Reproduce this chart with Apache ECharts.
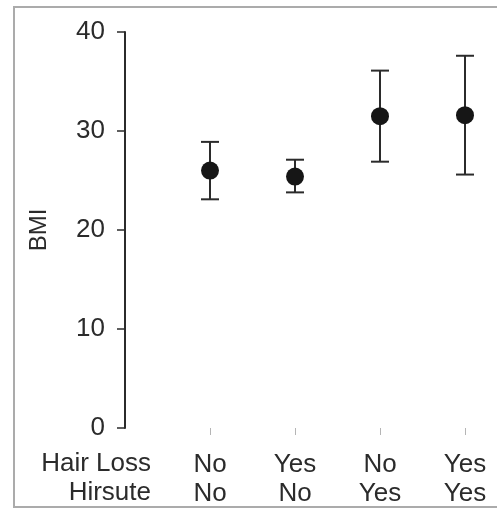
<!DOCTYPE html>
<html>
<head>
<meta charset="utf-8">
<script src="https://cdn.jsdelivr.net/npm/echarts@6/dist/echarts.min.js"></script>
<style>
  html, body { margin: 0; padding: 0; background: #fff; }
  #chart { width: 497px; height: 517px; }
</style>
</head>
<body>
<div id="chart"></div>
<script>
// group labels (two rows under each point)
const hairLoss = ['No', 'Yes', 'No', 'Yes'];
const hirsute = ['No', 'No', 'Yes', 'Yes'];
// BMI mean with lower / upper error bar ends
const bmiMean = [26.0, 25.4, 31.5, 31.6];
const bmiLow = [23.1, 23.8, 26.9, 25.6];
const bmiHigh = [28.9, 27.1, 36.1, 37.6];
const yTicks = [0, 10, 20, 30, 40];

const FONT = "'Liberation Sans', Arial, sans-serif";
const INK = '#2b2b2b';
const FS = 26;

const chart = echarts.init(document.getElementById('chart'));

const groupPos = hairLoss.map((_, i) => i + 1);

const option = {
  animation: false,
  backgroundColor: '#fff',
  grid: { left: 125, right: 2.25, top: 32, bottom: 89 },
  xAxis: {
    type: 'value',
    min: 0,
    max: 4.35,
    axisLine: { show: false },
    splitLine: { show: false },
    axisTick: {
      show: true,
      customValues: groupPos,
      length: 7,
      lineStyle: { color: '#b5b5b5', width: 1 },
    },
    axisLabel: {
      customValues: groupPos,
      margin: 22,
      fontFamily: FONT,
      fontSize: FS,
      color: INK,
      lineHeight: 29,
      formatter: (v) => {
        const i = Math.round(v) - 1;
        return `${hairLoss[i]}\n${hirsute[i]}`;
      },
    },
  },
  yAxis: {
    type: 'value',
    min: yTicks[0],
    max: yTicks[yTicks.length - 1],
    interval: 10,
    name: 'BMI',
    nameLocation: 'middle',
    nameGap: 74,
    nameTextStyle: { fontFamily: FONT, fontSize: 24, color: INK },
    axisLine: { show: true, lineStyle: { color: INK, width: 2 } },
    axisTick: { show: true, length: 8, lineStyle: { color: INK, width: 1.5 } },
    splitLine: { show: false },
    axisLabel: { margin: 20, fontFamily: FONT, fontSize: FS, color: INK },
  },
  graphic: [
    {
      type: 'rect',
      shape: { x: 14, y: 7, width: 520, height: 500 },
      style: { fill: 'none', stroke: '#ababab', lineWidth: 2 },
      silent: true,
    },
    {
      type: 'text',
      x: 151, y: 464,
      style: { text: 'Hair Loss', align: 'right', verticalAlign: 'middle', font: `${FS}px ${FONT}`, fill: INK },
    },
    {
      type: 'text',
      x: 151, y: 493,
      style: { text: 'Hirsute', align: 'right', verticalAlign: 'middle', font: `${FS}px ${FONT}`, fill: INK },
    },
  ],
  series: [
    {
      type: 'custom',
      data: groupPos.map((x, i) => [x, bmiLow[i], bmiHigh[i]]),
      renderItem: (params, api) => {
        const lo = api.coord([api.value(0), api.value(1)]);
        const hi = api.coord([api.value(0), api.value(2)]);
        const half = 9;
        const style = { stroke: INK, lineWidth: 2 };
        return {
          type: 'group',
          children: [
            { type: 'line', shape: { x1: lo[0], y1: lo[1], x2: hi[0], y2: hi[1] }, style },
            { type: 'line', shape: { x1: hi[0] - half, y1: hi[1], x2: hi[0] + half, y2: hi[1] }, style },
            { type: 'line', shape: { x1: lo[0] - half, y1: lo[1], x2: lo[0] + half, y2: lo[1] }, style },
          ],
        };
      },
      z: 2,
    },
    {
      type: 'scatter',
      data: groupPos.map((x, i) => [x, bmiMean[i]]),
      symbol: 'circle',
      symbolSize: 18,
      itemStyle: { color: '#161616', opacity: 1 },
      z: 3,
    },
  ],
};

chart.setOption(option);
</script>
</body>
</html>
